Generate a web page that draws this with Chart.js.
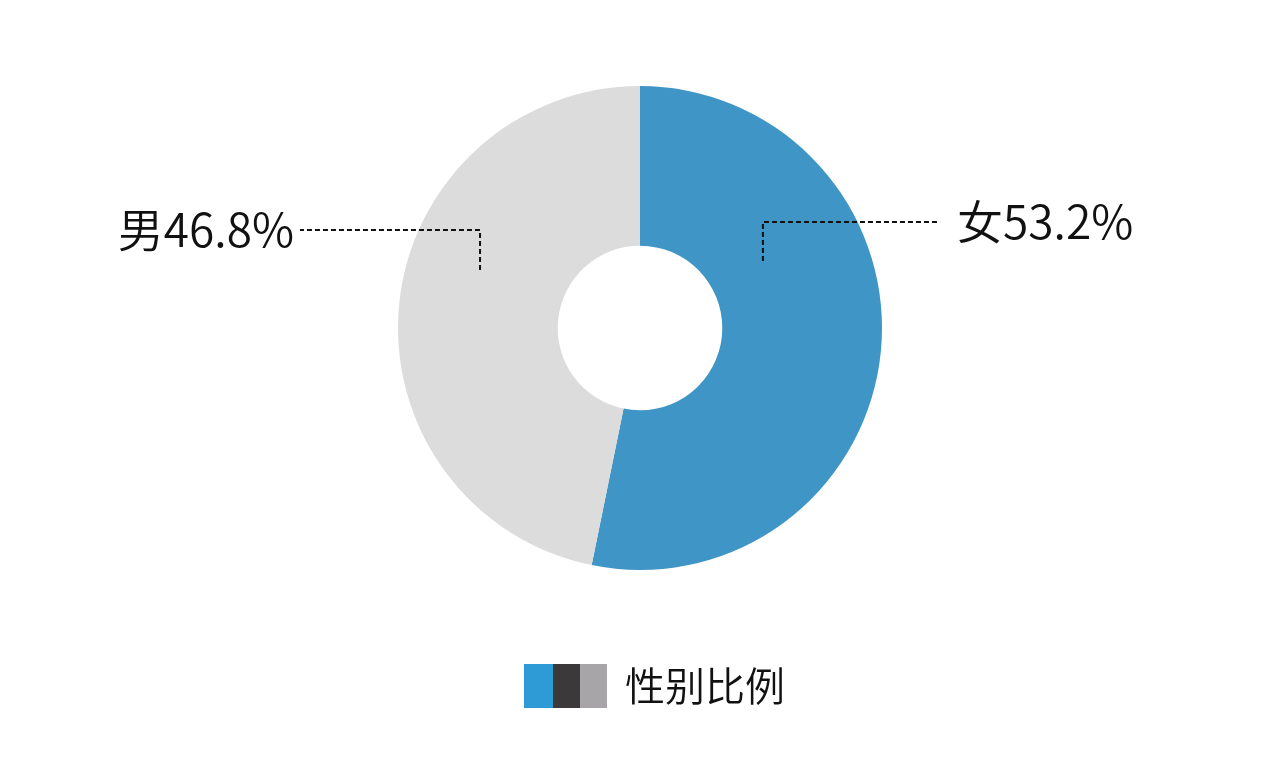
<!DOCTYPE html>
<html>
<head>
<meta charset="utf-8">
<script src="https://cdn.jsdelivr.net/npm/chart.js@4/dist/chart.umd.min.js"></script>
<style>
  html, body { margin: 0; padding: 0; background: #fff; }
  #wrap { width: 1280px; height: 762px; }
</style>
</head>
<body>
<div id="wrap"><canvas id="genderChart"></canvas></div>
<script>
const categories = ['女', '男'];
const values = [53.2, 46.8];
const sliceColors = ['#3f95c6', '#dcdcdc'];
const legendTitle = '性别比例';
const legendSwatches = ['#2f9bd6', '#3b3939', '#a7a5a7'];

const FONT = '"Noto Sans CJK SC", "Noto Sans", sans-serif';

// leader lines + labels, anchored on the arcs
const calloutPlugin = {
  id: 'callouts',
  afterDatasetsDraw(chart) {
    const ctx = chart.ctx;
    const meta = chart.getDatasetMeta(0);
    const arc = meta.data[0];
    const cx = arc.x, cy = arc.y, r = arc.outerRadius;
    const callouts = [
      // anchor offset (in radius units), elbow y offset, label end x offset, side
      { i: 0, ax: 0.508, ay: -0.277, ey: -0.438, lx: 1.24, side: 'right' },
      { i: 1, ax: -0.661, ay: -0.24, ey: -0.405, lx: -1.405, side: 'left' }
    ];
    ctx.save();
    ctx.strokeStyle = '#111';
    ctx.lineWidth = 2;
    ctx.setLineDash([5, 3]);
    ctx.font = '350 46px ' + FONT;
    ctx.fillStyle = '#111';
    ctx.textBaseline = 'middle';
    callouts.forEach(c => {
      const x0 = cx + c.ax * r, y0 = cy + c.ay * r;
      const y1 = cy + c.ey * r;
      const x2 = cx + c.lx * r;
      ctx.beginPath();
      ctx.moveTo(x0, y0);
      ctx.lineTo(x0, y1);
      ctx.lineTo(x2, y1);
      ctx.stroke();
      const txt = categories[c.i] + values[c.i].toFixed(1) + '%';
      if (c.side === 'right') {
        ctx.textAlign = 'left';
        ctx.fillText(txt, x2 + 17, y1);
      } else {
        ctx.textAlign = 'right';
        ctx.fillText(txt, x2 - 6, y1);
      }
    });
    ctx.restore();

    // legend: three swatches and one title
    ctx.save();
    const sw = [29, 27, 27];
    let x = 524;
    const top = 664, h = 44;
    legendSwatches.forEach((col, k) => {
      ctx.fillStyle = col;
      ctx.fillRect(x, top, sw[k], h);
      x += sw[k];
    });
    ctx.font = '350 40px ' + FONT;
    ctx.fillStyle = '#111';
    ctx.textAlign = 'left';
    ctx.textBaseline = 'middle';
    ctx.fillText(legendTitle, x + 18, top + h / 2);
    ctx.restore();
  }
};

new Chart(document.getElementById('genderChart'), {
  type: 'doughnut',
  data: {
    labels: categories,
    datasets: [{
      data: values,
      backgroundColor: sliceColors,
      borderWidth: 0
    }]
  },
  options: {
    responsive: true,
    maintainAspectRatio: false,
    animation: false,
    cutout: '34%',
    layout: { padding: { top: 86, bottom: 192, left: 0, right: 0 } },
    plugins: {
      legend: { display: false },
      tooltip: { enabled: false }
    }
  },
  plugins: [calloutPlugin]
});
</script>
</body>
</html>
